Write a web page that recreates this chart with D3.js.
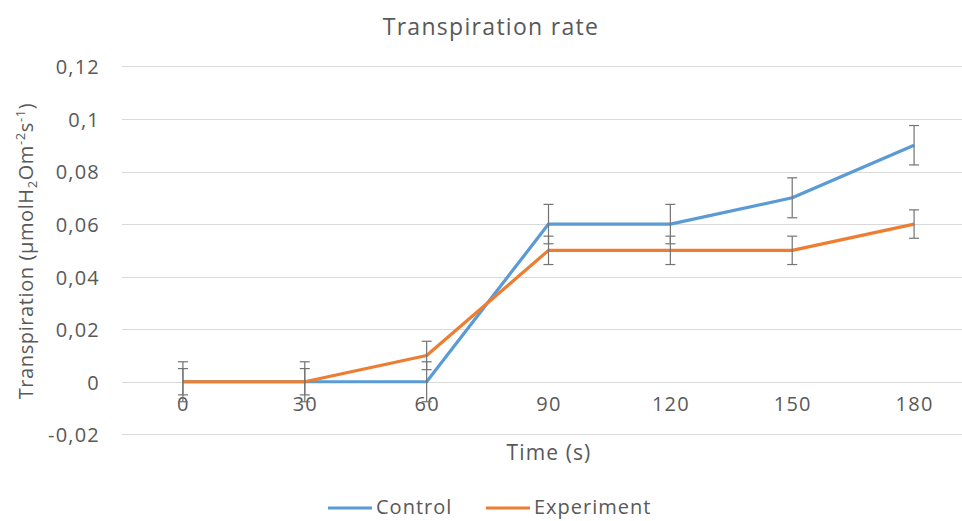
<!DOCTYPE html>
<html>
<head>
<meta charset="utf-8">
<script src="https://cdn.jsdelivr.net/npm/d3@7"></script>
<style>
  body { margin: 0; background: #fff; }
  text { font-family: "Open Sans", sans-serif; fill: #595959; }
</style>
</head>
<body>
<script>
// data
var times = ["0", "30", "60", "90", "120", "150", "180"];
var control = [0, 0, 0, 0.06, 0.06, 0.07, 0.09];
var experiment = [0, 0, 0.01, 0.05, 0.05, 0.05, 0.06];
var controlErr = [0.0076, 0.0076, 0.0076, 0.0075, 0.0075, 0.0076, 0.0075];
var experimentErr = [0.005, 0.005, 0.0054, 0.0054, 0.0054, 0.0054, 0.0054];
var yTicks = [-0.02, 0, 0.02, 0.04, 0.06, 0.08, 0.1, 0.12];
var yTickLabels = ["-0,02", "0", "0,02", "0,04", "0,06", "0,08", "0,1", "0,12"];

var w = 962;
var h = 521;

var svg = d3.select("body").append("svg").attr("width", w).attr("height", h);

var xScale = d3.scalePoint()
    .domain(times)
    .range([122, 975])
    .padding(0.5);

var yScale = d3.scaleLinear()
    .domain([-0.02, 0.12])
    .range([434.3, 66.4]);

// gridlines
svg.append("g")
    .selectAll("line")
    .data(yTicks)
    .enter()
    .append("line")
    .attr("x1", 122)
    .attr("x2", w)
    .attr("y1", (d) => Math.round(yScale(d)) + 0.5)
    .attr("y2", (d) => Math.round(yScale(d)) + 0.5)
    .attr("stroke", "#d9d9d9")
    .attr("stroke-width", 1);

// y axis labels
var yAxis = d3.axisLeft(yScale)
    .tickValues(yTicks)
    .tickFormat((d, i) => yTickLabels[i])
    .tickSize(0)
    .tickPadding(0);

var gy = svg.append("g")
    .attr("transform", "translate(100,0)")
    .call(yAxis);
gy.select(".domain").remove();
gy.selectAll("text")
    .attr("font-size", "20px")
    .attr("dy", "0.37em")
    .attr("fill", "#595959")
    .style("letter-spacing", "1.2px")
    .style("font-family", "'Open Sans', sans-serif");

// x axis labels
var xAxis = d3.axisBottom(xScale).tickSize(0).tickPadding(0);
var gx = svg.append("g")
    .attr("transform", "translate(0,397)")
    .call(xAxis);
gx.select(".domain").remove();
gx.selectAll("text")
    .attr("font-size", "20px")
    .attr("fill", "#595959")
    .style("letter-spacing", "1.2px")
    .style("font-family", "'Open Sans', sans-serif");

// lines
var line = d3.line()
    .x((d, i) => xScale(times[i]))
    .y((d) => yScale(d));

svg.append("path")
    .attr("d", line(control))
    .attr("fill", "none")
    .attr("stroke", "#5b9bd5")
    .attr("stroke-width", 3.2)
    .attr("stroke-linejoin", "round");

svg.append("path")
    .attr("d", line(experiment))
    .attr("fill", "none")
    .attr("stroke", "#ed7d31")
    .attr("stroke-width", 3.2)
    .attr("stroke-linejoin", "round");

// error bars
function errorBars(values, errs) {
    var g = svg.append("g")
        .attr("stroke", "#737373")
        .attr("stroke-width", 1.2);
    var bars = g.selectAll("g")
        .data(values)
        .enter()
        .append("g");
    bars.append("line")
        .attr("x1", (d, i) => xScale(times[i]))
        .attr("x2", (d, i) => xScale(times[i]))
        .attr("y1", (d, i) => yScale(d + errs[i]))
        .attr("y2", (d, i) => yScale(d - errs[i]));
    bars.append("line")
        .attr("x1", (d, i) => xScale(times[i]) - 5)
        .attr("x2", (d, i) => xScale(times[i]) + 5)
        .attr("y1", (d, i) => yScale(d + errs[i]))
        .attr("y2", (d, i) => yScale(d + errs[i]));
    bars.append("line")
        .attr("x1", (d, i) => xScale(times[i]) - 5)
        .attr("x2", (d, i) => xScale(times[i]) + 5)
        .attr("y1", (d, i) => yScale(d - errs[i]))
        .attr("y2", (d, i) => yScale(d - errs[i]));
}
errorBars(control, controlErr);
errorBars(experiment, experimentErr);

// title
svg.append("text")
    .text("Transpiration rate")
    .attr("x", 491)
    .attr("y", 35)
    .attr("text-anchor", "middle")
    .attr("font-size", "23px")
    .style("letter-spacing", "1.3px");

// x axis title
svg.append("text")
    .text("Time (s)")
    .attr("x", 549)
    .attr("y", 460)
    .attr("text-anchor", "middle")
    .attr("font-size", "21px")
    .style("letter-spacing", "1.1px");

// y axis title with sub/superscripts
var yTitle = svg.append("text")
    .attr("transform", "translate(33,251) rotate(-90)")
    .attr("text-anchor", "middle")
    .attr("font-size", "20px")
    .style("letter-spacing", "0.6px");
yTitle.append("tspan").text("Transpiration (µmolH");
yTitle.append("tspan").text("2").attr("font-size", "13px").attr("baseline-shift", "-4");
yTitle.append("tspan").text("Om");
yTitle.append("tspan").text("-2").attr("font-size", "13px").attr("baseline-shift", "8");
yTitle.append("tspan").text("s");
yTitle.append("tspan").text("-1").attr("font-size", "13px").attr("baseline-shift", "8");
yTitle.append("tspan").text(")");

// legend
var legend = [["Control", "#5b9bd5", 328], ["Experiment", "#ed7d31", 486]];
legend.forEach((d) => {
    svg.append("line")
        .attr("x1", d[2])
        .attr("x2", d[2] + 44)
        .attr("y1", 508)
        .attr("y2", 508)
        .attr("stroke", d[1])
        .attr("stroke-width", 3.2);
    svg.append("text")
        .text(d[0])
        .attr("x", d[2] + 48)
        .attr("y", 514)
        .attr("font-size", "20px")
        .style("letter-spacing", "1px");
});
</script>
</body>
</html>
